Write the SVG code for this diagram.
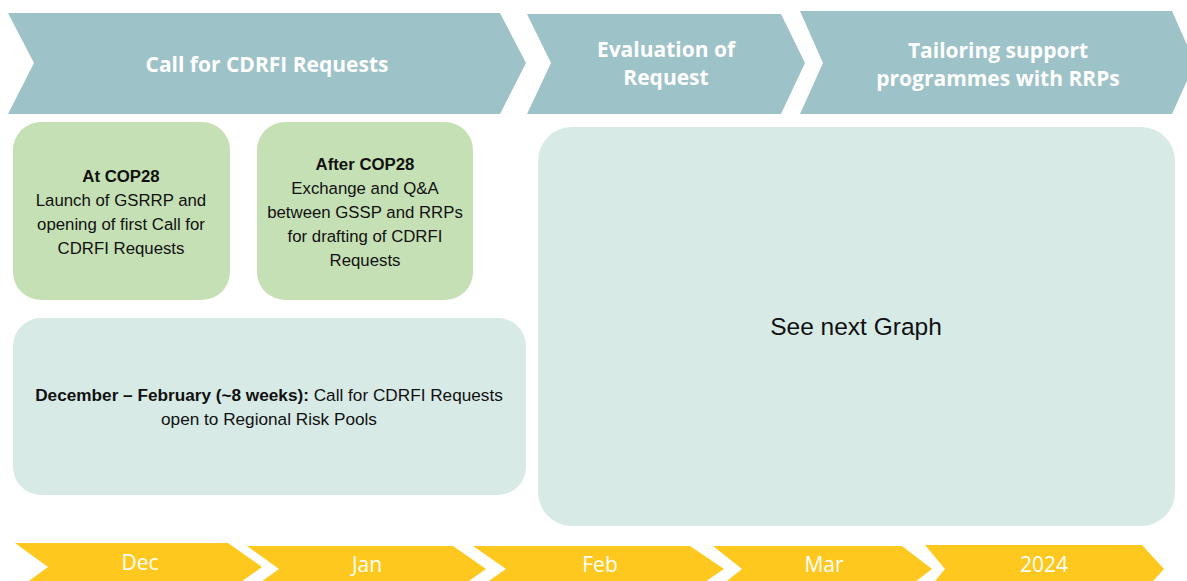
<svg xmlns="http://www.w3.org/2000/svg" width="1187" height="581" viewBox="0 0 1187 581">
<style>
.hdr{fill:#9DC2C8}
.mon{fill:#FFC81E}
.grn{fill:#C5E0B4}
.lt{fill:#D7EAE6}
.ht{font-family:"Open Sans","DejaVu Sans",sans-serif;font-weight:700;font-size:21px;fill:#fff;text-anchor:middle}
.mt{font-family:"Open Sans","DejaVu Sans",sans-serif;font-size:21px;fill:#fff;text-anchor:middle}
.bt{font-family:"Liberation Sans",Arial,sans-serif;font-size:16.8px;fill:#111;text-anchor:middle}
.bt2{font-family:"Liberation Sans",Arial,sans-serif;font-size:17.2px;fill:#111;text-anchor:middle}
.b{font-weight:700}
</style>
<rect width="1187" height="581" fill="#fff"/>
<g id="phase-call">
<polygon class="hdr" points="8,13 500,13 526,63 500,114 8,114 34,63"/>
<text class="ht" x="267" y="72">Call for CDRFI Requests</text>
</g>
<g id="phase-evaluation">
<polygon class="hdr" points="527,14 781,14 805,63 781,114 527,114 551,63"/>
<text class="ht" x="666" y="57">Evaluation of</text>
<text class="ht" x="666" y="85">Request</text>
</g>
<g id="phase-tailoring">
<polygon class="hdr" points="800,11 1172,11 1195,63 1172,114 800,114 823,63"/>
<text class="ht" x="998" y="58">Tailoring support</text>
<text class="ht" x="998" y="86">programmes with RRPs</text>
</g>
<g id="box-at-cop28">
<rect class="grn" x="13" y="122" width="217" height="178" rx="28"/>
<text class="bt" x="121" y="182"><tspan class="b">At COP28</tspan><tspan x="121" dy="24">Launch of GSRRP and</tspan><tspan x="121" dy="24">opening of first Call for</tspan><tspan x="121" dy="24">CDRFI Requests</tspan></text>
</g>
<g id="box-after-cop28">
<rect class="grn" x="257" y="122" width="216" height="178" rx="28"/>
<text class="bt" x="365" y="170"><tspan class="b">After COP28</tspan><tspan x="365" dy="24">Exchange and Q&amp;A</tspan><tspan x="365" dy="24">between GSSP and RRPs</tspan><tspan x="365" dy="24">for drafting of CDRFI</tspan><tspan x="365" dy="24">Requests</tspan></text>
</g>
<g id="box-call-period">
<rect class="lt" x="13" y="318" width="513" height="177" rx="28"/>
<text class="bt2" x="269" y="401"><tspan class="b">December – February (~8 weeks):</tspan> Call for CDRFI Requests</text>
<text class="bt2" x="269" y="425">open to Regional Risk Pools</text>
</g>
<g id="box-next-graph">
<rect class="lt" x="538" y="127" width="637" height="399" rx="34"/>
<text x="856" y="335" font-family="Liberation Sans, Arial, sans-serif" font-size="24.5" fill="#111" text-anchor="middle">See next Graph</text>
</g>
<g id="month-dec">
<polygon class="mon" points="15,543 228,543 262,567 228,591 15,591 48,567"/>
<text class="mt" x="140" y="570">Dec</text>
</g>
<g id="month-jan">
<polygon class="mon" points="247,546 453,546 486,569 453,592 247,592 279,569"/>
<text class="mt" x="367" y="572">Jan</text>
</g>
<g id="month-feb">
<polygon class="mon" points="473,546 690,546 724,569 690,592 473,592 506,569"/>
<text class="mt" x="600" y="572">Feb</text>
</g>
<g id="month-mar">
<polygon class="mon" points="713,546 902,546 932,569 902,592 713,592 742,569"/>
<text class="mt" x="824" y="572">Mar</text>
</g>
<g id="month-2024">
<polygon class="mon" points="925,545 1142,545 1164,569 1142,593 925,593 945,569"/>
<text class="mt" x="1044" y="572">2024</text>
</g>
<g id="connectors"/>
</svg>
